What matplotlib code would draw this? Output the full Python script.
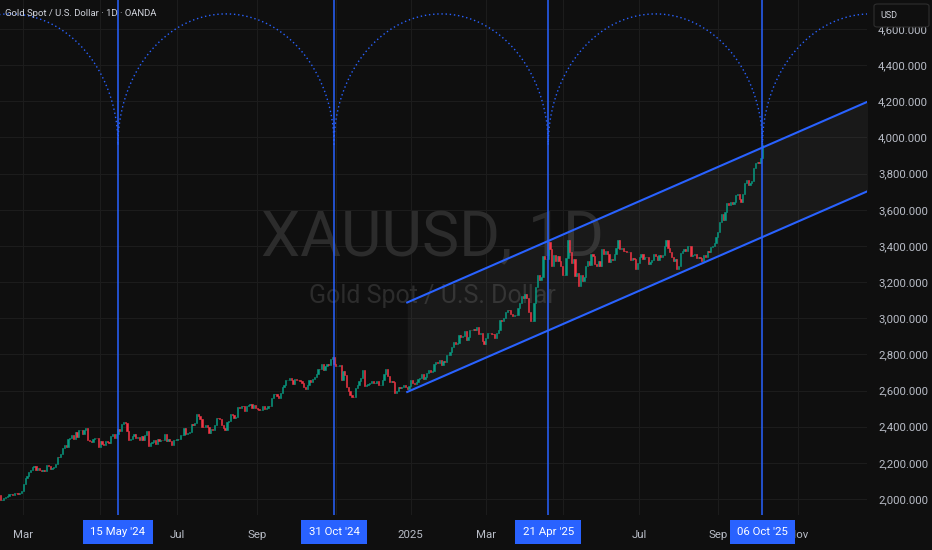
import matplotlib
matplotlib.use("Agg")
import matplotlib.pyplot as plt
from matplotlib.patches import FancyBboxPatch
from matplotlib.transforms import blended_transform_factory
import numpy as np
import pandas as pd

# XAUUSD daily closes (OANDA, 1D)
first_open = 2024
closes_2024 = [
    # Feb (from 12th)
    2020, 1992, 1992, 2004, 2013, 2018, 2025, 2025, 2024, 2035, 2031, 2029, 2034, 2044,
    # Mar
    2083, 2114, 2128, 2148, 2159, 2179, 2182, 2158, 2174, 2162, 2155, 2160, 2157, 2186,
    2181, 2165, 2172, 2178, 2195, 2233, 2230,
    # Apr
    2250, 2280, 2300, 2290, 2330, 2339, 2352, 2333, 2372, 2344, 2383, 2383, 2361, 2379,
    2392, 2327, 2322, 2316, 2332, 2337, 2335, 2286,
    # May
    2320, 2303, 2301, 2323, 2314, 2309, 2346, 2360, 2336, 2358, 2386, 2376, 2415, 2425,
    2420, 2378, 2329, 2334, 2350, 2360, 2338, 2343, 2327,
    # Jun
    2350, 2327, 2355, 2376, 2294, 2311, 2316, 2325, 2303, 2333, 2319, 2329, 2328, 2360,
    2322, 2334, 2319, 2298, 2327, 2326,
    # Jul
    2332, 2330, 2356, 2356, 2392, 2359, 2364, 2371, 2415, 2411, 2422, 2469, 2459, 2445,
    2400, 2396, 2409, 2397, 2364, 2387, 2384, 2411, 2447,
    # Aug
    2446, 2443, 2410, 2390, 2382, 2427, 2431, 2472, 2465, 2447, 2456, 2507, 2504, 2514,
    2512, 2484, 2512, 2518, 2524, 2504, 2520, 2503,
    # Sep
    2500, 2493, 2495, 2516, 2497, 2506, 2516, 2512, 2558, 2578, 2582, 2569, 2559, 2587,
    2622, 2629, 2657, 2657, 2672, 2658, 2634,
    # Oct
    2663, 2657, 2656, 2653, 2644, 2622, 2608, 2630, 2657, 2649, 2662, 2674, 2692, 2721,
    2719, 2748, 2715, 2736, 2747, 2743, 2774, 2788, 2744,
    # Nov
    2736, 2736, 2743, 2659, 2706, 2685, 2619, 2598, 2573, 2565, 2563, 2612, 2632, 2650,
    2670, 2715, 2625, 2633, 2638, 2640, 2650,
    # Dec
    2640, 2643, 2650, 2632, 2633, 2660, 2694, 2718, 2680, 2648, 2652, 2646, 2587, 2595,
    2622, 2613, 2617, 2633, 2621, 2606, 2624,
]
closes_2025 = [
    # Jan
    2658, 2640, 2636, 2648, 2662, 2670, 2690, 2663, 2677, 2697, 2715, 2703, 2708, 2745,
    2755, 2754, 2771, 2740, 2763, 2760, 2795, 2798,
    # Feb
    2815, 2843, 2866, 2856, 2861, 2908, 2898, 2904, 2928, 2882, 2898, 2935, 2933, 2939,
    2936, 2951, 2914, 2916, 2876, 2857,
    # Mar
    2893, 2918, 2920, 2911, 2910, 2889, 2916, 2934, 2988, 2984, 3001, 3035, 3048, 3044,
    3023, 3012, 3020, 3019, 3057, 3085, 3124,
    # Apr
    3114, 3134, 3114, 3037, 2982, 2983, 3083, 3175, 3237, 3211, 3230, 3343, 3327, 3327,
    3424, 3381, 3289, 3349, 3319, 3344, 3317, 3289,
    # May
    3239, 3241, 3334, 3431, 3366, 3305, 3325, 3236, 3248, 3177, 3240, 3203, 3229, 3290,
    3314, 3295, 3357, 3342, 3300, 3288, 3318, 3289,
    # Jun
    3381, 3353, 3372, 3353, 3310, 3325, 3322, 3354, 3386, 3433, 3385, 3388, 3370, 3369,
    3368, 3368, 3323, 3332, 3328, 3274, 3303,
    # Jul
    3338, 3357, 3326, 3337, 3336, 3302, 3313, 3324, 3355, 3343, 3324, 3347, 3339, 3350,
    3397, 3431, 3388, 3368, 3337, 3314, 3326, 3274, 3289,
    # Aug
    3363, 3373, 3381, 3369, 3397, 3398, 3342, 3348, 3356, 3335, 3336, 3332, 3315, 3348,
    3339, 3372, 3365, 3394, 3397, 3416, 3448,
    # Sep
    3477, 3533, 3578, 3545, 3586, 3636, 3626, 3641, 3634, 3643, 3679, 3689, 3659, 3644,
    3685, 3746, 3763, 3736, 3749, 3760, 3833, 3859,
    # Oct
    3866, 3857, 3886, 3960,
]
holidays = ["2024-12-25", "2025-01-01"]

cycle_dates = ["2024-05-15", "2024-10-31", "2025-04-21", "2025-10-06"]
cycle_labels = ["15 May '24", "31 Oct '24", "21 Apr '25", "06 Oct '25"]
arc_base = 3960
arc_top = 4683

channel_dates = ["2024-12-30", "2025-10-06"]
channel_lower = [2592, 3449]
channel_width = 495

# May / Nov '24 / May '25 sit under the date badges, so they show no label
month_ticks = ["2024-03", "2024-05", "2024-07", "2024-09", "2024-11", "2025-01",
               "2025-03", "2025-05", "2025-07", "2025-09", "2025-11"]
month_labels = ["Mar", "", "Jul", "Sep", "", "2025",
                "Mar", "", "Jul", "Sep", "Nov"]
price_ticks = list(range(2000, 4700, 200))

BG = "#0f0f0f"
BLUE = "#2962ff"
UP = "#089981"
DOWN = "#f23645"
TXT = "#b8bcc6"

plt.rcParams["font.family"] = ["Roboto", "DejaVu Sans"]

# bar index on trading days
days = pd.bdate_range("2024-02-12", "2025-11-28")
days = days[~days.isin(pd.to_datetime(holidays))]
closes = np.array(closes_2024 + closes_2025, dtype=float)
xs = np.arange(len(closes))
opens = np.concatenate([[first_open], closes[:-1]])


def idx(d):
    return int(days.searchsorted(pd.Timestamp(d)))


fig = plt.figure(figsize=(9.32, 5.5), dpi=100, facecolor=BG)
ax = fig.add_axes([0, 35 / 550, 867 / 932, 515 / 550])
ax.set_facecolor(BG)
for s in ax.spines.values():
    s.set_visible(False)

ppb = (762.5 - 118) / (idx(cycle_dates[-1]) - idx(cycle_dates[0]))
x0 = idx(cycle_dates[0]) - 118 / ppb
x1 = x0 + 867 / ppb
ax.set_xlim(x0, x1)
ax.set_ylim(2000 - 16 / 0.1808, 2000 + 499 / 0.1808)

# grid
tick_x = [idx(m + "-01") for m in month_ticks]
for t in tick_x:
    ax.axvline(t, color="#1c1c1c", lw=0.8, zorder=0)
for p in price_ticks:
    ax.axhline(p, color="#1c1c1c", lw=0.8, zorder=0)

# watermark
ax.text(0.499, 0.535, "XAUUSD, 1D", transform=ax.transAxes, ha="center", va="center",
        fontsize=45, color="#2c2c2c", zorder=0)
ax.text(0.499, 0.425, "Gold Spot / U.S. Dollar", transform=ax.transAxes, ha="center",
        va="center", fontsize=18, color="#2c2c2c", zorder=0)

# channel
ca, cb = idx(channel_dates[0]), idx(channel_dates[1])
slope = (channel_lower[1] - channel_lower[0]) / (cb - ca)
cx = np.array([ca, x1 + 5])
low_line = channel_lower[0] + slope * (cx - ca)
up_line = low_line + channel_width
ax.fill_between(cx, low_line, up_line, color="#ffffff", alpha=0.045, lw=0, zorder=1)
ax.plot(cx, low_line, color=BLUE, lw=1.5, zorder=4)
ax.plot(cx, up_line, color=BLUE, lw=1.5, zorder=4)

# candles
up = closes >= opens
cols = np.where(up, UP, DOWN)
ax.bar(xs, closes - opens, bottom=opens, width=0.7, color=cols, edgecolor=cols,
       linewidth=0.4, zorder=3)

# cycle lines and arcs
cyc = [idx(d) for d in cycle_dates]
period = cyc[1] - cyc[0]
bounds = [cyc[0] - period] + cyc + [cyc[-1] + period]
for a, b in zip(bounds[:-1], bounds[1:]):
    t = np.linspace(a, b, 600)
    c, r = (a + b) / 2, (b - a) / 2
    y = arc_base + (arc_top - arc_base) * np.sqrt(np.clip(1 - ((t - c) / r) ** 2, 0, 1))
    ax.plot(t, y, color=BLUE, lw=1.0, linestyle=(0, (1, 2)), zorder=2)
for c in cyc:
    ax.axvline(c, color=BLUE, lw=1.1, zorder=5)

# axes ticks
ax.yaxis.tick_right()
ax.set_yticks(price_ticks)
ax.set_yticklabels([f"{p:,.3f}" for p in price_ticks])
ax.tick_params(axis="y", length=0, pad=8, labelsize=8.2, labelcolor=TXT)
ax.set_xticks(tick_x)
ax.set_xticklabels(month_labels)
ax.tick_params(axis="x", length=0, pad=11, labelsize=8.2, labelcolor=TXT)

# date badges
tr = blended_transform_factory(ax.transData, ax.transAxes)
for c, lab in zip(cyc, cycle_labels):
    ax.text(c, -0.033, lab, transform=tr, ha="center", va="center", fontsize=8.2,
            color="white", zorder=10, clip_on=False,
            bbox=dict(boxstyle="square,pad=0.65", fc=BLUE, ec="none"))

# header text and currency box
fig.text(5 / 932, 1 - 14 / 550, "Gold Spot / U.S. Dollar · 1D · OANDA", fontsize=6.8,
         color="#d1d4dc", va="center", ha="left")
box = FancyBboxPatch((874 / 932, 1 - 27 / 550), 55 / 932, 23 / 550,
                     boxstyle="round,pad=0,rounding_size=0.004", transform=fig.transFigure,
                     fc=BG, ec="#2e2e2e", lw=0.8, zorder=20)
fig.patches.append(box)
fig.text(880 / 932, 1 - 15 / 550, "USD", fontsize=6.5, color="#d1d4dc", va="center",
         ha="left", zorder=21)

fig.savefig("out.png", dpi=100, facecolor=BG)
